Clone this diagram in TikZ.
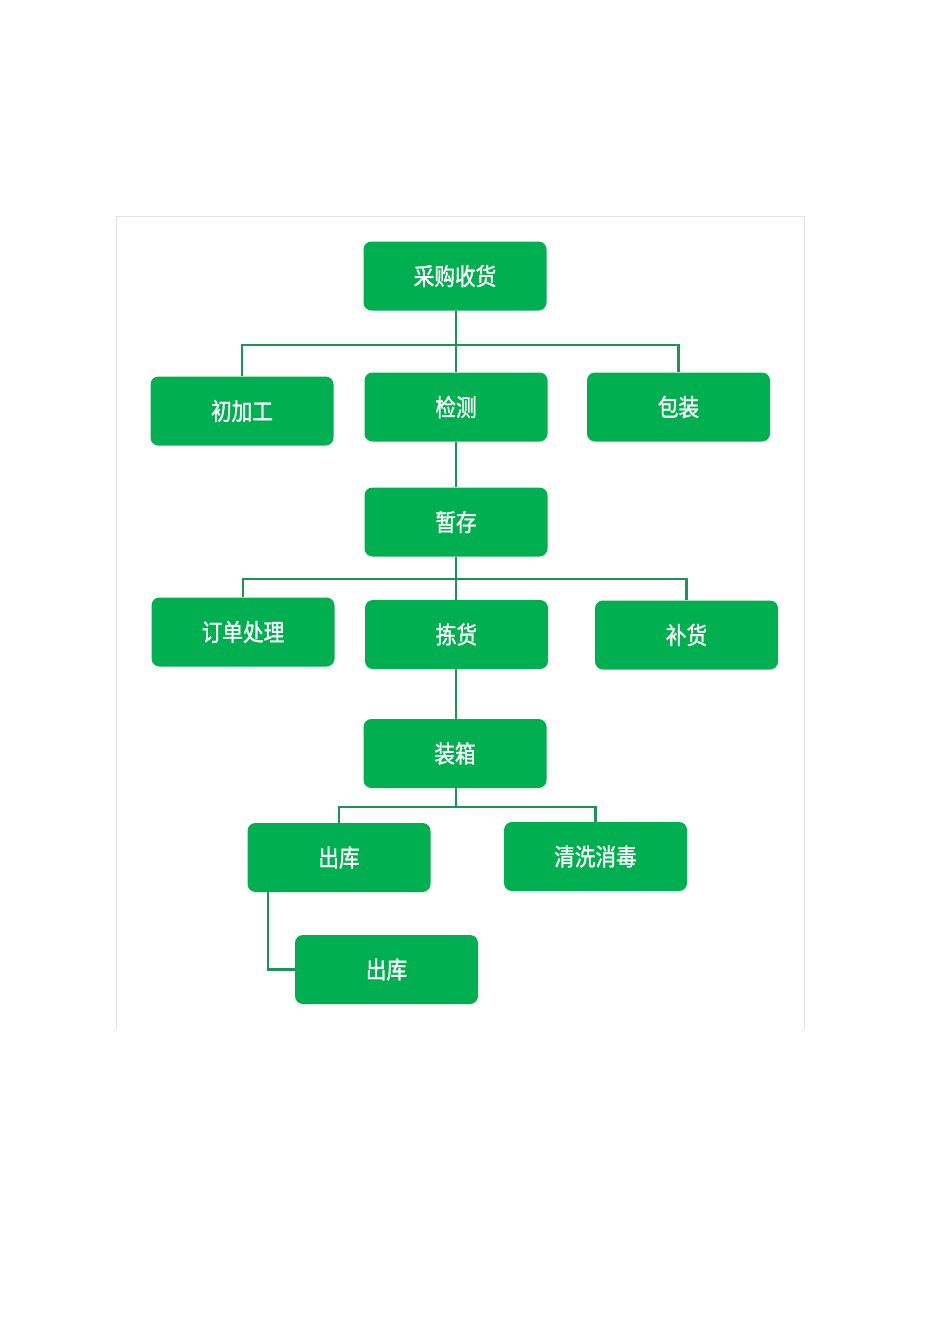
\documentclass[tikz,border=0pt]{standalone}
\usepackage{fontspec}
\newfontfamily\cjk[FakeStretch=0.86,FakeBold=1.2]{Noto Sans CJK SC}
\definecolor{boxg}{HTML}{00B050}
\definecolor{lineg}{HTML}{1C9454}
\definecolor{framegray}{HTML}{E2E2E2}
\tikzset{
  box/.style={rectangle, rounded corners=8pt, fill=boxg, minimum width=183pt, minimum height=69pt, inner sep=0pt, text=white, font=\cjk\fontsize{24}{28}\selectfont},
  conn/.style={draw=lineg, line width=2.8pt},
  frameline/.style={draw=framegray, line width=1pt}
}
\begin{document}
\begin{tikzpicture}[x=1pt,y=-1pt]
\useasboundingbox[fill=white] (0,0) rectangle (950,1344);
% frame
\coordinate (fa) at (116,1030);
\coordinate (fb) at (116,216);
\coordinate (fc) at (804,216);
\coordinate (fd) at (804,1030);
\draw[frameline] (fa) -- (fb) -- (fc) -- (fd);

% connectors (drawn first, below boxes)
\coordinate (b1) at (456,345);
\coordinate (b2) at (456,579);
\coordinate (b3) at (456,807);
\coordinate (e1) at (268,969.5);

% nodes
\node[box] (cg)  at (455,276)   {采购收货};
\node[box] (cjg) at (242,411)   {初加工};
\node[box] (jc)  at (456,407)   {检测};
\node[box] (bz)  at (678.5,407) {包装};
\node[box] (zc)  at (456,522)   {暂存};
\node[box] (dd)  at (243,632)   {订单处理};
\node[box] (jh)  at (456.5,634.5) {拣货};
\node[box] (bh)  at (686.5,635) {补货};
\node[box] (zx)  at (455,753.5) {装箱};
\node[box] (ck1) at (339,857.5) {出库};
\node[box] (qx)  at (595.5,856.5) {清洗消毒};
\node[box] (ck2) at (386.5,969.5) {出库};

\draw[conn] (cg.south -| b1) -- (jc.north -| b1);
\draw[conn] (cjg.north) |- (b1) -| (bz.north);
\draw[conn] (jc.south -| b1) -- (zc.north -| b1);
\draw[conn] (zc.south -| b2) -- (jh.north -| b2);
\draw[conn] (dd.north) |- (b2) -| (bh.north);
\draw[conn] (jh.south -| b2) -- (zx.north -| b2);
\draw[conn] (zx.south -| b3) -- (b3);
\draw[conn] (ck1.north) |- (b3) -| (qx.north);
\draw[conn] (ck1.south -| e1) |- (ck2.west);
\end{tikzpicture}
\end{document}
